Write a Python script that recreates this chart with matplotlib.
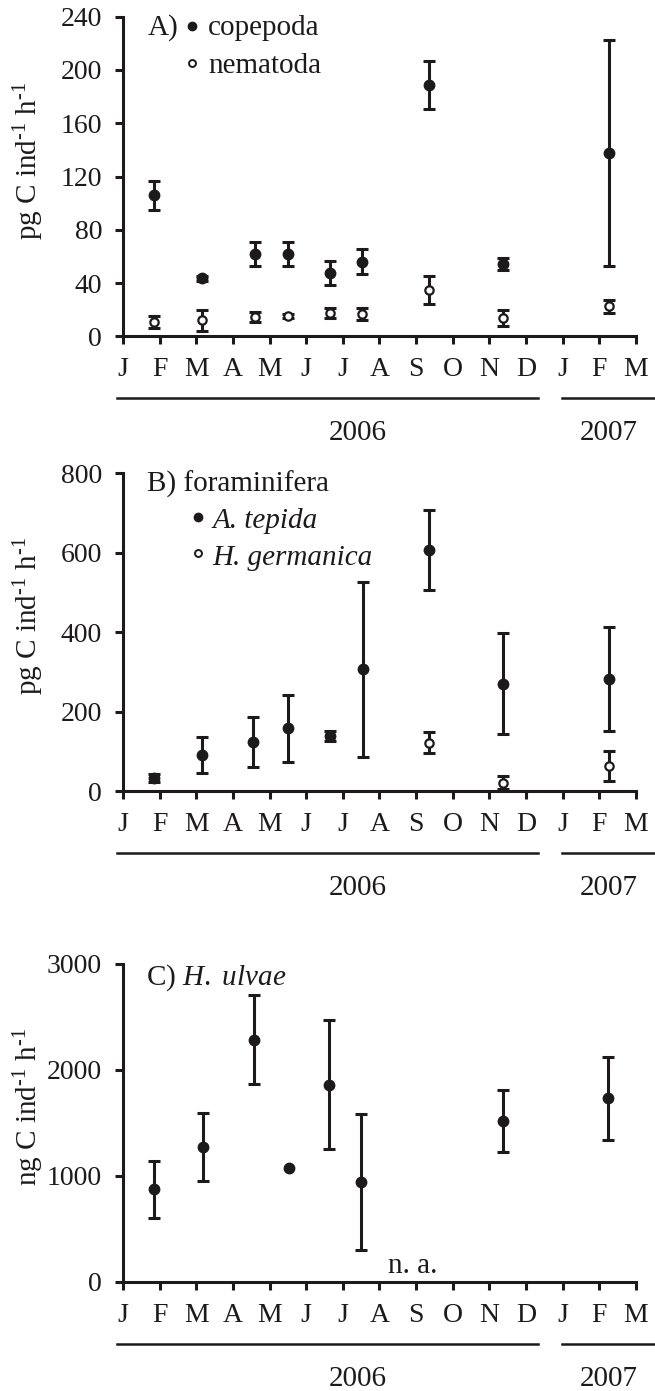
import numpy as np
import matplotlib
matplotlib.use("Agg")
import matplotlib.pyplot as plt
from matplotlib.transforms import ScaledTranslation

plt.rcParams['font.family'] = ['Liberation Serif', 'DejaVu Serif']
plt.rcParams['mathtext.fontset'] = 'custom'
plt.rcParams['mathtext.rm'] = 'Liberation Serif'
plt.rcParams['mathtext.it'] = 'Liberation Serif:italic'

INK = '#1c1a1b'

month_labels = ['J', 'F', 'M', 'A', 'M', 'J', 'J', 'A', 'S', 'O', 'N', 'D', 'J', 'F', 'M']

# A) meiofauna (pg C ind-1 h-1), x in months since 1 Jan 2006
x_A = [0.85, 2.16, 3.6, 4.5, 5.64, 6.53, 8.36, 10.38, 13.27]
cope_mean = [106, 43.5, 62, 62, 47.5, 56, 189, 54.5, 137.5]
cope_err = [11, 2, 9, 9, 9, 9.5, 18, 4.5, 85]
nema_mean = [11, 12, 14.5, 15, 17.5, 17, 35, 14, 22.5]
nema_err = [4.5, 8, 4, 1.5, 3.5, 4.5, 10.5, 6, 5]

# B) foraminifera
x_B = [0.85, 2.15, 3.56, 4.5, 5.64, 6.56, 8.34, 10.38, 13.27]
tepida_mean = [34, 91, 123, 158, 139, 306, 607, 270, 282]
tepida_err = [10, 45, 63, 84, 12, 221, 100, 127, 132]
x_germ = [8.34, 10.38, 13.27]
germ_mean = [122, 21, 64]
germ_err = [26.5, 17, 38]

# C) H. ulvae (ng C ind-1 h-1)
x_C = [0.84, 2.17, 3.58, 4.53, 5.62, 6.51, 10.37, 13.24]
ulvae_mean = [873, 1276, 2285, 1071, 1862, 945, 1519, 1733]
ulvae_err = [270, 322, 420, 0, 607, 640, 290, 390]

fig = plt.figure(figsize=(6.55, 13.91), dpi=100)
left, width = 0.1878, 0.783
axA = fig.add_axes([left, 0.7581, width, 0.2300])
axB = fig.add_axes([left, 0.4313, width, 0.2286])
axC = fig.add_axes([left, 0.0784, width, 0.2286])

LW = 2.2
TICK_FS = 20
TEXT_FS = 21


def err_points(ax, x, y, e, filled=True, ms=7.5):
    x = np.array(x); y = np.array(y); e = np.array(e, dtype=float)
    m = e > 0
    ax.errorbar(x[m], y[m], yerr=e[m], fmt='none', ecolor=INK, elinewidth=LW,
                capsize=4.5, capthick=LW, zorder=2, clip_on=False)
    if filled:
        ax.plot(x, y, 'o', color=INK, ms=ms, zorder=3, clip_on=False)
    else:
        ax.plot(x, y, 'o', mfc='white', mec=INK, mew=1.6, ms=ms, zorder=3, clip_on=False)


def style(ax, ymax, yticks, ylabel):
    ax.set_xlim(0, 14)
    ax.set_ylim(0, ymax)
    ax.set_xticks(range(15))
    ax.set_xticklabels(month_labels)
    ax.set_yticks(yticks)
    for s in ['top', 'right']:
        ax.spines[s].set_visible(False)
    for s in ['left', 'bottom']:
        ax.spines[s].set_linewidth(LW)
        ax.spines[s].set_color(INK)
    ax.tick_params(axis='both', direction='out', length=5.5, width=LW,
                   color=INK, labelsize=TICK_FS, labelcolor=INK)
    ax.tick_params(axis='x', pad=9.5)
    ax.tick_params(axis='y', pad=9.5)
    ax.text(-0.183, 0.55, ylabel, rotation=90, ha='center', va='center',
            fontsize=TEXT_FS, color=INK, transform=ax.transAxes)
    # year bars and labels below the month axis
    tr = ax.get_xaxis_transform() + ScaledTranslation(0, -0.62, fig.dpi_scale_trans)
    ax.plot([-0.16, 11.33], [0, 0], color=INK, lw=1.8, transform=tr, clip_on=False)
    ax.plot([11.99, 14.6], [0, 0], color=INK, lw=1.8, transform=tr, clip_on=False)
    tr2 = ax.get_xaxis_transform() + ScaledTranslation(0, -0.97, fig.dpi_scale_trans)
    ax.text(6.4, 0, '2006', ha='center', va='center', fontsize=TEXT_FS, color=INK, transform=tr2)
    ax.text(13.25, 0, '2007', ha='center', va='center', fontsize=TEXT_FS, color=INK, transform=tr2)


UNIT_SUP = 'ind$^{\\text{-1}}$ h$^{\\text{-1}}$'

# Panel A
err_points(axA, x_A, cope_mean, cope_err, True)
err_points(axA, x_A, nema_mean, nema_err, False, ms=6)
style(axA, 240, [0, 40, 80, 120, 160, 200, 240], 'pg C ' + UNIT_SUP)
axA.text(0.049, 0.942, 'A)', fontsize=TEXT_FS, color=INK, va='baseline', transform=axA.transAxes)
axA.plot([0.1345], [0.9703], 'o', color=INK, ms=6, transform=axA.transAxes, clip_on=False)
axA.plot([0.1345], [0.8547], 'o', mfc='white', mec=INK, mew=1.4, ms=5, transform=axA.transAxes, clip_on=False)
axA.text(0.1657, 0.942, 'copepoda', fontsize=TEXT_FS, color=INK, va='baseline', transform=axA.transAxes)
axA.text(0.1657, 0.824, 'nematoda', fontsize=TEXT_FS, color=INK, va='baseline', transform=axA.transAxes)

# Panel B
err_points(axB, x_B, tepida_mean, tepida_err, True)
err_points(axB, x_germ, germ_mean, germ_err, False, ms=6)
style(axB, 800, [0, 200, 400, 600, 800], 'pg C ' + UNIT_SUP)
axB.text(0.047, 0.940, 'B) foraminifera', fontsize=TEXT_FS, color=INK, va='baseline', transform=axB.transAxes)
axB.plot([0.146], [0.862], 'o', color=INK, ms=6, transform=axB.transAxes, clip_on=False)
axB.plot([0.146], [0.748], 'o', mfc='white', mec=INK, mew=1.4, ms=5, transform=axB.transAxes, clip_on=False)
axB.text(0.175, 0.827, 'A. tepida', fontsize=TEXT_FS, style='italic', color=INK, va='baseline', transform=axB.transAxes)
axB.text(0.175, 0.711, 'H. germanica', fontsize=TEXT_FS, style='italic', color=INK, va='baseline', transform=axB.transAxes)

# Panel C
err_points(axC, x_C, ulvae_mean, ulvae_err, True)
style(axC, 3000, [0, 1000, 2000, 3000], 'ng C ' + UNIT_SUP)
axC.text(0.045, 0.934, 'C) $\\mathit{H.\\ ulvae}$', fontsize=TEXT_FS, color=INK, va='baseline', transform=axC.transAxes)
axC.text(7.9, 85, 'n. a.', fontsize=TEXT_FS, color=INK, ha='center', va='baseline')

fig.savefig('out.png', dpi=100)
